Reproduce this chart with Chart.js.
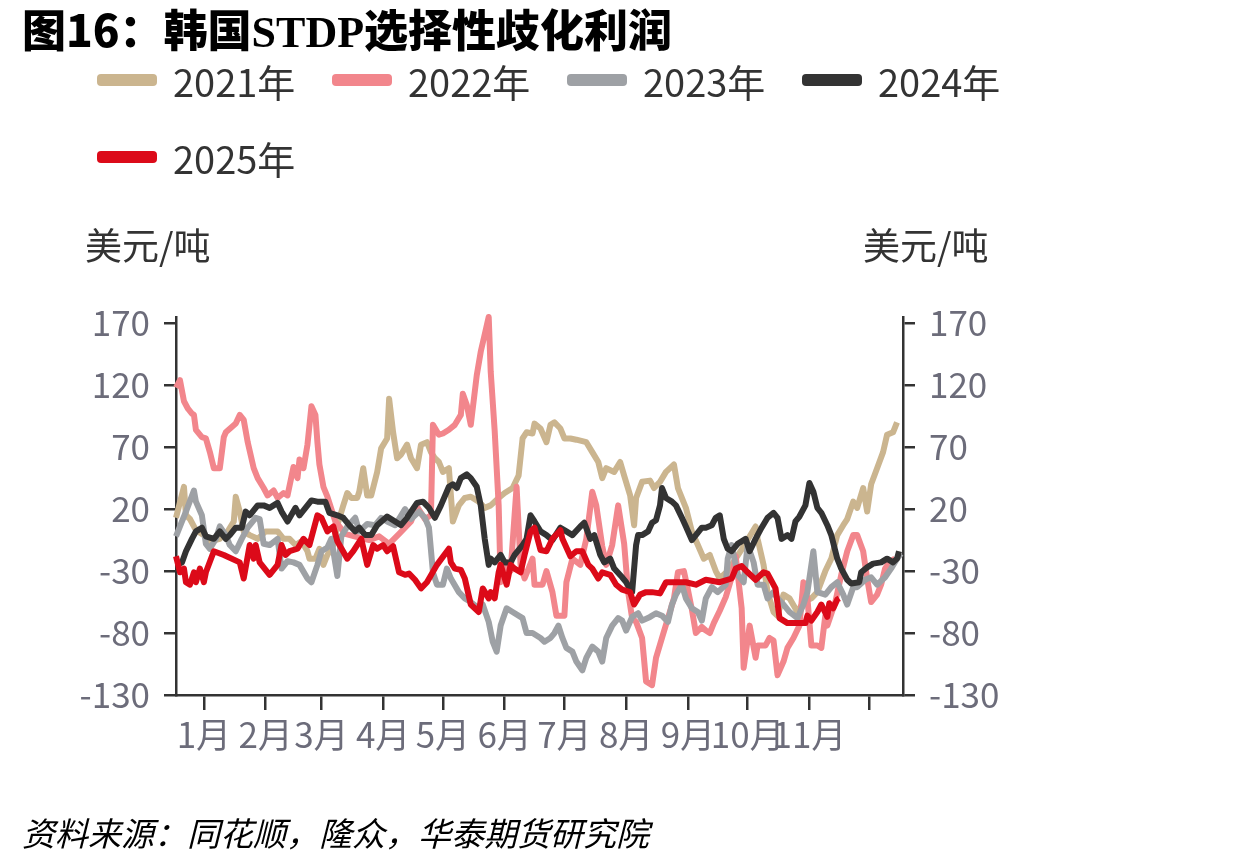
<!DOCTYPE html>
<html>
<head>
<meta charset="utf-8">
<script src="https://cdn.jsdelivr.net/npm/chart.js@4.4.1/dist/chart.umd.min.js"></script>
<style>
  html, body { margin: 0; padding: 0; background: #fff; }
  body { width: 1240px; height: 866px; position: relative; overflow: hidden;
         font-family: "Noto Sans CJK SC", "Noto Sans", sans-serif; }
  #chart { position: absolute; left: 0; top: 0; }
  #title { position: absolute; left: 22px; top: 3px; font-size: 44px; font-weight: 900;
           color: #000; line-height: 50px; white-space: nowrap; }
  #title .en { font-family: "Liberation Serif", serif; font-weight: bold; }
  .item { position: absolute; height: 44px; display: flex; align-items: center;
          font-size: 38px; color: #333; white-space: nowrap; }
  .item i { display: inline-block; width: 60px; height: 12px; border-radius: 4px; margin-right: 16px; }
  .unit { position: absolute; top: 222px; font-size: 37px; color: #333; line-height: 44px; }
  #source { position: absolute; left: 22px; top: 810px; font-size: 33px; font-style: italic;
            color: #000; line-height: 44px; white-space: nowrap; }
</style>
</head>
<body>
<canvas id="chart" width="1240" height="866"></canvas>
<div id="title">图16：韩国<span class="en">STDP</span>选择性歧化利润</div>
<div id="legend"></div>
<div class="unit" style="left:85px">美元/吨</div>
<div class="unit" style="left:863px">美元/吨</div>
<div id="source">资料来源：同花顺，隆众，华泰期货研究院</div>

<script>
// 日序（0 = 1月1日）与利润值，美元/吨
const days2021 = [0,4,5,7,10,14,17,22,26,29,30,32,34,37,41,45,47,51,54,57,60,63,66,67,70,72,74,76,79,81,84,86,88,91,92,94,96,98,101,103,106,107,109,111,113,116,118,121,123,126,128,130,132,134,137,139,142,145,148,152,155,158,162,165,169,172,174,176,179,180,183,186,188,190,193,195,198,201,206,209,212,214,216,220,223,225,228,230,231,234,238,240,243,246,250,252,256,259,262,265,268,271,273,277,281,285,291,292,295,297,300,302,305,308,312,315,319,322,326,329,332,335,337,340,342,345,347,349,352,355,357,360,362];
const vals2021 = [13,38,15,12,3,-1,-6,-4,2,10,30,18,2,-1,-4,2,2,2,-4,-4,-9,-6,-14,-20,-20,-12,-25,-17,-9,7,23,33,29,29,34,53,31,31,50,69,77,109,82,61,64,72,61,53,72,74,66,61,58,50,53,10,23,29,30,26,21,23,29,33,37,47,77,82,81,89,85,74,88,90,85,77,77,76,74,66,58,45,53,50,58,47,31,7,29,42,43,37,42,50,56,37,21,2,-9,-20,-17,-30,-36,-30,-20,-10,6,-4,-25,-47,-63,-66,-49,-52,-63,-55,-52,-47,-30,-20,-1,7,12,26,21,37,18,40,53,66,80,82,90];

const days2022 = [0,2,4,6,8,9,10,13,15,17,19,22,24,25,30,32,34,36,39,41,44,46,49,51,54,56,59,61,62,64,66,68,70,71,72,74,76,80,85,92,97,102,107,112,118,121,125,128,129,132,134,137,140,143,144,146,148,151,153,155,157,158,160,162,163,166,168,171,173,175,179,180,184,186,189,191,195,196,199,203,206,209,211,214,216,219,222,225,227,229,231,234,236,239,241,244,247,250,252,255,257,259,261,264,266,268,270,273,276,279,281,284,285,288,291,292,296,298,300,302,305,307,310,313,315,317,319,322,324,326,327,331,334,337,340,342,345,347,349,352,354,356,358,361];
const vals2022 = [118,124,107,101,97,96,84,78,77,66,53,53,78,82,89,96,92,74,53,45,37,31,35,29,33,31,54,45,60,53,72,103,96,74,56,38,30,10,0,-3,-5,-2,-8,0,10,22,12,15,88,80,81,84,88,96,113,104,88,128,147,161,175,131,83,23,-39,-23,-30,38,-25,-36,-20,-41,-41,-30,-47,-66,-66,-39,-20,-25,-4,34,23,-10,-25,-9,23,-8,-47,-68,-71,-84,-119,-122,-100,-84,-68,-52,-31,-30,-45,-61,-80,-75,-78,-80,-72,-62,-51,-35,-18,-60,-108,-74,-100,-90,-90,-84,-86,-114,-103,-92,-84,-74,-39,-52,-90,-90,-92,-66,-74,-55,-33,-14,-1,-1,-14,-36,-55,-49,-41,-28,-23,-20];

const days2023 = [0,3,5,9,10,13,15,17,20,22,25,27,30,33,36,40,42,44,47,51,53,56,59,62,66,68,71,73,76,78,81,83,86,90,92,96,100,103,106,110,115,118,122,125,127,129,131,134,136,138,142,145,148,152,154,157,159,161,163,166,169,174,176,179,183,185,188,190,192,194,196,199,201,204,206,209,212,214,216,219,222,224,226,229,232,234,238,241,244,247,249,251,254,256,259,262,264,266,269,272,276,277,279,282,285,287,290,292,295,297,300,302,305,308,312,315,317,320,322,326,329,332,335,337,340,342,346,349,352,356,359,362,364];
const vals2023 = [-2,10,18,35,26,15,-8,-12,-4,6,-1,-9,-14,-4,5,13,12,-8,-9,-4,-28,-22,-23,-25,-36,-39,-25,-14,-11,-4,-34,-2,6,13,2,8,7,13,10,7,20,12,18,13,5,-31,-41,-41,-28,-36,-47,-52,-55,-60,-57,-71,-87,-95,-74,-60,-63,-68,-80,-80,-84,-87,-84,-80,-74,-84,-92,-95,-103,-110,-100,-91,-95,-103,-84,-74,-68,-70,-78,-67,-64,-70,-67,-64,-66,-71,-57,-49,-41,-52,-60,-63,-70,-52,-43,-47,-41,-20,-9,-33,-39,-9,-23,-41,-41,-52,-47,-52,-57,-63,-68,-57,-47,-14,-47,-49,-43,-39,-49,-57,-43,-43,-37,-35,-41,-35,-28,-20,-16];

const days2024 = [0,3,5,8,10,13,15,19,22,25,27,30,33,35,37,41,44,47,51,53,56,60,62,65,68,71,75,77,81,84,87,90,92,95,98,101,106,110,113,116,121,124,127,130,133,137,139,141,143,146,148,151,153,155,157,158,160,163,165,168,170,174,176,178,180,183,186,189,193,196,199,203,205,208,210,213,215,218,220,224,226,229,231,232,234,237,239,241,243,244,246,249,251,254,256,259,261,264,266,269,271,273,275,277,279,282,286,288,291,294,297,300,302,304,307,309,311,313,316,318,320,322,324,327,329,332,334,337,339,343,344,347,350,354,357,360,362,363];
const vals2024 = [-25,-23,-14,-4,2,5,-2,-4,2,-4,-1,5,5,18,15,23,23,21,25,18,10,21,15,21,27,26,26,17,15,13,7,2,5,-1,-1,7,14,10,7,13,25,26,21,13,23,38,40,37,45,48,45,38,23,-4,-25,-20,-23,-17,-23,-23,-17,-9,-4,15,10,2,-1,-5,5,2,-1,6,9,-4,-1,-17,-23,-20,-28,-35,-39,-47,-9,-1,-1,2,9,11,23,37,29,26,23,13,6,-5,-1,5,5,7,13,15,-4,-12,-14,-8,-4,-14,-4,5,13,17,13,-4,-1,-4,10,14,23,41,34,21,17,7,-1,-20,-28,-37,-40,-39,-31,-27,-24,-23,-20,-23,-20,-14];

const days2025 = [0,2,4,5,7,9,10,12,14,15,19,24,32,34,37,39,40,42,46,47,51,53,55,57,61,64,67,71,73,76,79,81,86,89,93,96,99,101,104,106,109,112,115,117,120,123,126,131,137,138,140,143,145,148,152,154,157,158,160,162,163,166,168,170,173,175,178,180,183,186,189,193,194,198,201,204,207,209,212,214,218,221,224,228,230,233,236,239,243,246,251,256,261,266,273,279,281,284,287,291,295,297,301,303,307,312,316,317,319,322,324,327,328,330,332,333];
const vals2025 = [-18,-31,-28,-39,-41,-31,-39,-28,-39,-31,-14,-17,-23,-36,-9,-20,-9,-23,-31,-33,-25,-9,-17,-14,-12,-4,-9,15,13,2,6,-6,-20,-14,-4,-25,-9,-12,-9,-14,-10,-31,-33,-32,-37,-44,-39,-25,-12,-23,-28,-29,-36,-57,-63,-44,-52,-47,-52,-31,-25,-41,-25,-28,-31,-17,2,5,-13,-14,-4,3,-4,-18,-14,-14,-25,-28,-36,-31,-33,-41,-45,-47,-57,-49,-47,-47,-48,-39,-39,-39,-41,-37,-39,-36,-28,-26,-31,-37,-31,-32,-44,-68,-72,-72,-72,-66,-70,-63,-57,-67,-56,-60,-53,-52];

// 坐标轴刻度
const monthTicks = [14, 45, 73, 104, 134, 165, 195, 226, 257, 287, 318, 348];
const monthLabels = ["1月", "2月", "3月", "4月", "5月", "6月", "7月", "8月", "9月", "10月", "11月", ""];
const yTicks = [170, 120, 70, 20, -30, -80, -130];

const seriesNames = ["2021年", "2022年", "2023年", "2024年", "2025年"];
const seriesColors = ["#cbb58f", "#f2868c", "#9ea1a5", "#333333", "#dc0a19"];
const seriesDays = [days2021, days2022, days2023, days2024, days2025];
const seriesVals = [vals2021, vals2022, vals2023, vals2024, vals2025];

// 图例（HTML）
const legendPos = [[97, 58], [332, 58], [567, 58], [802, 58], [97, 135]];
const legendBox = document.getElementById("legend");
seriesNames.forEach((name, i) => {
  const el = document.createElement("div");
  el.className = "item";
  el.style.left = legendPos[i][0] + "px";
  el.style.top = legendPos[i][1] + "px";
  el.innerHTML = `<i style="background:${seriesColors[i]}"></i>${name}`;
  legendBox.appendChild(el);
});

const tickFont = { size: 35, family: "'Noto Sans CJK SC', 'Noto Sans', sans-serif" };
const tickColor = "#6c6c7a";
const axisColor = "#333333";

function yAxis(position, width) {
  return {
    position,
    min: -130,
    max: 175,
    afterBuildTicks: (s) => { s.ticks = yTicks.map((v) => ({ value: v })); },
    afterFit: (s) => { s.width = width; },
    ticks: { color: tickColor, font: tickFont, padding: 14 },
    grid: { drawOnChartArea: false, tickLength: 12, color: axisColor, lineWidth: 2.5 },
    border: { display: true, color: axisColor, width: 2.5 },
  };
}

const datasets = seriesNames.map((name, i) => ({
  label: name,
  data: seriesDays[i].map((d, j) => ({ x: d, y: seriesVals[i][j] })),
  borderColor: seriesColors[i],
  backgroundColor: seriesColors[i],
  borderWidth: 6,
  pointRadius: 0,
  tension: 0,
  borderJoinStyle: "round",
  clip: false,
  yAxisID: "y",
  order: 4 - i, // 2025年 画在最上层
}));

new Chart(document.getElementById("chart"), {
  type: "line",
  data: { datasets },
  options: {
    responsive: false,
    animation: false,
    devicePixelRatio: 1,
    layout: { padding: { top: 317, left: 0, right: 0, bottom: 0 } },
    plugins: { legend: { display: false }, tooltip: { enabled: false } },
    scales: {
      x: {
        type: "linear",
        min: 0,
        max: 365,
        afterBuildTicks: (s) => { s.ticks = monthTicks.map((v) => ({ value: v })); },
        afterFit: (s) => { s.height = 171; },
        ticks: {
          autoSkip: false,
          maxRotation: 0,
          padding: 4,
          color: tickColor,
          font: tickFont,
          callback: (v, i) => monthLabels[i],
        },
        grid: { drawOnChartArea: false, tickLength: 15, color: axisColor, lineWidth: 2.5 },
        border: { display: true, color: axisColor, width: 2.5 },
      },
      y: yAxis("left", 176),
      y2: yAxis("right", 337),
    },
  },
});
</script>
</body>
</html>
